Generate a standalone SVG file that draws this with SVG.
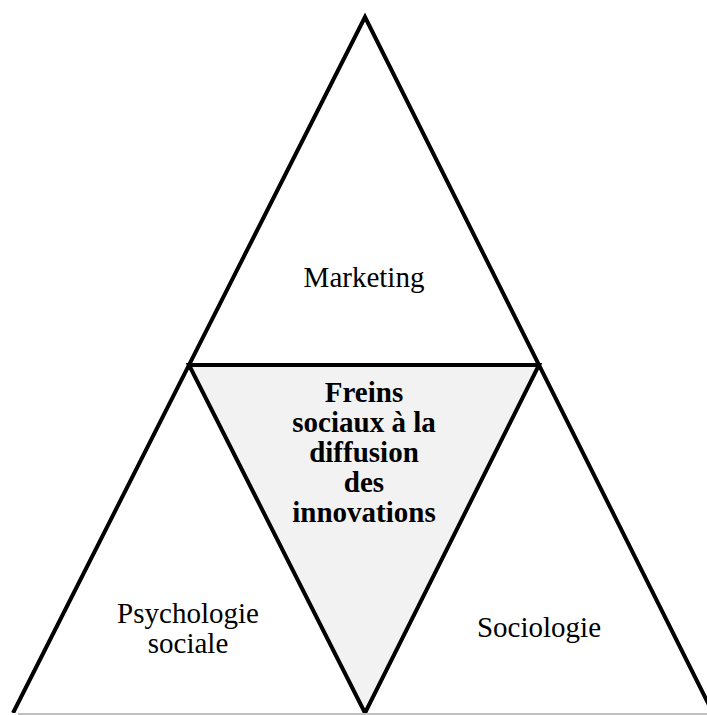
<svg xmlns="http://www.w3.org/2000/svg" width="707" height="715" viewBox="0 0 707 715">
<style>
.edge{fill:none;stroke:#000;stroke-width:4;stroke-linejoin:miter}
.centre{fill:#f2f2f2;stroke:#000;stroke-width:4;stroke-linejoin:miter}
.lbl{font-family:"Liberation Serif","Times New Roman",serif;font-size:29px;fill:#000;text-anchor:middle}
.bold{font-weight:bold}
</style>
<rect x="0" y="0" width="707" height="715" fill="#fff"/>
<g id="centre">
<polygon points="189,365 539,365 365,713" class="centre"/>
<text class="lbl bold" x="364" y="402">Freins</text>
<text class="lbl bold" x="364" y="432">sociaux à la</text>
<text class="lbl bold" x="364" y="462">diffusion</text>
<text class="lbl bold" x="364" y="492">des</text>
<text class="lbl bold" x="364" y="522">innovations</text>
</g>
<g id="marketing">
<polyline points="13,713 365,17 713,713" class="edge"/>
<text class="lbl" x="364" y="287">Marketing</text>
</g>
<g id="psychologie">
<text class="lbl" x="188" y="623">Psychologie</text>
<text class="lbl" x="188" y="653">sociale</text>
</g>
<g id="sociologie">
<text class="lbl" x="539" y="637">Sociologie</text>
</g>
<g id="connectors"></g>
<rect x="0" y="713" width="707" height="2" fill="#fff"/>
<rect x="18" y="713" width="689" height="2" fill="#c0c0c0"/>
</svg>
